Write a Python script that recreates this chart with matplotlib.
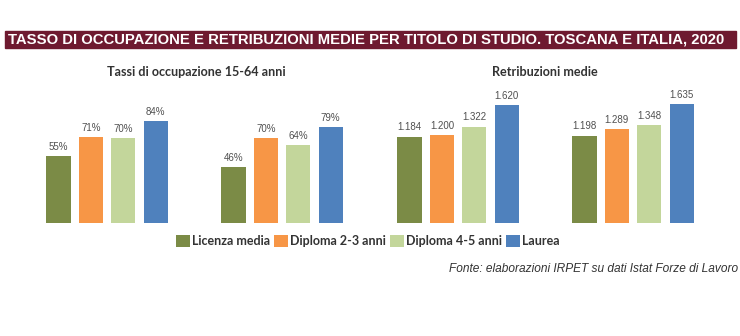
import numpy as np
import matplotlib.pyplot as plt
from matplotlib.patches import Patch, Rectangle

# dati
categorie = ["Licenza media", "Diploma 2-3 anni", "Diploma 4-5 anni", "Laurea"]
colori = ["#7b8b46", "#f79646", "#c3d69b", "#4f81bd"]

occ_toscana = [55, 71, 70, 84]
occ_italia = [46, 70, 64, 79]
retr_toscana = [1184, 1200, 1322, 1620]
retr_italia = [1198, 1289, 1348, 1635]

titolo = "TASSO DI OCCUPAZIONE E RETRIBUZIONI MEDIE PER TITOLO DI STUDIO. TOSCANA E ITALIA, 2020"
fonte = "Fonte: elaborazioni IRPET su dati Istat Forze di Lavoro"

W, H = 740, 336
fig = plt.figure(figsize=(W / 100, H / 100), dpi=100)

# barra del titolo
fig.patches.append(Rectangle((5 / W, 1 - 48 / H), 731 / W, 17 / H,
                             transform=fig.transFigure, color="#6e1a30", zorder=0))
t = fig.text(8 / W, 1 - 39.5 / H, titolo, color="white", fontsize=10, fontweight="bold",
             family="Liberation Sans", va="center", ha="left")
# adatta la larghezza del titolo alla barra
r = fig.canvas.get_renderer()
w = t.get_window_extent(r).width
t.set_fontsize(10 * 714 / w)

x1 = np.arange(4)
x2 = np.arange(4) + 5.4


def pannello(left_px, valori1, valori2, ymax, fmt):
    ax = fig.add_axes([left_px / W, 1 - 222.7 / H, 330 / W, 132.7 / H])
    ax.bar(x1, valori1, width=0.75, color=colori)
    ax.bar(x2, valori2, width=0.75, color=colori)
    for xs, vs in ((x1, valori1), (x2, valori2)):
        for x, v in zip(xs, vs):
            ax.annotate(fmt(v), (x, v), xytext=(0, 3), textcoords="offset points",
                        ha="center", va="bottom", fontsize=7, color="#505050",
                        family="Liberation Sans")
    ax.set_xlim(-0.88, -0.88 + 330 / 32.4)
    ax.set_ylim(0, ymax)
    ax.axis("off")
    return ax


pannello(30, occ_toscana, occ_italia, 109.7, lambda v: f"{v}%")
pannello(381, retr_toscana, retr_italia, 1825, lambda v: f"{v:,}".replace(",", "."))

fig.text(196 / W, 1 - 72 / H, "Tassi di occupazione 15-64 anni", ha="center", va="center",
         fontsize=9.1, fontweight="bold", color="#333333", family="Lato")
fig.text(545 / W, 1 - 72 / H, "Retribuzioni medie", ha="center", va="center",
         fontsize=9.1, fontweight="bold", color="#333333", family="Lato")

handles = [Patch(facecolor=c, label=l) for c, l in zip(colori, categorie)]
fig.legend(handles=handles, loc="center", bbox_to_anchor=(368 / W, 1 - 241 / H), ncol=4,
           frameon=False, handlelength=1.1, handleheight=1.1, handletextpad=0.2,
           columnspacing=0.3, prop={"family": "Lato", "weight": "bold", "size": 9},
           labelcolor="#333333")

fig.text(738 / W, 1 - 269 / H, fonte, ha="right", va="center", fontsize=8.6,
         style="italic", color="#333333", family="Liberation Sans")

fig.savefig("out.png", dpi=100, facecolor="white")
